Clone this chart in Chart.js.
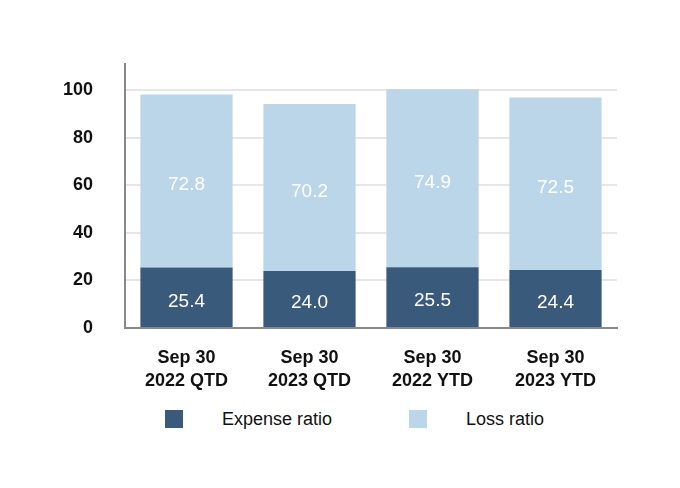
<!DOCTYPE html>
<html>
<head>
<meta charset="utf-8">
<script src="https://cdn.jsdelivr.net/npm/chart.js@4"></script>
<style>
  html, body { margin: 0; padding: 0; background: #fff; }
  #wrap { position: relative; width: 680px; height: 488px; font-family: "Liberation Sans", Arial, sans-serif; }
  #chart-wrap { position: absolute; left: 0; top: 0; width: 680px; height: 395px; }
  .legend-item { position: absolute; top: 410px; height: 18px; font-size: 18px; color: #111; }
  .legend-box { position: absolute; left: 0; top: 0; width: 18px; height: 18px; }
  .legend-text { position: absolute; left: 57px; top: 0; line-height: 18px; white-space: nowrap; }
</style>
</head>
<body>
<div id="wrap">
  <div id="chart-wrap"><canvas id="chart"></canvas></div>
  <div id="legend"></div>
</div>
<script>
(function () {
  'use strict';

  var CATEGORIES = [['Sep 30', '2022 QTD'], ['Sep 30', '2023 QTD'], ['Sep 30', '2022 YTD'], ['Sep 30', '2023 YTD']];
  var EXPENSE_RATIO = [25.4, 24.0, 25.5, 24.4];
  var LOSS_RATIO = [72.8, 70.2, 74.9, 72.5];
  var Y_TICKS = [0, 20, 40, 60, 80, 100];

  var DARK = '#3a5a7b';
  var LIGHT = '#bcd6e9';
  var FONT = '"Liberation Sans", Arial, sans-serif';

  // white value labels centred in each bar segment
  var segmentLabels = {
    id: 'segmentLabels',
    afterDatasetsDraw: function (chart) {
      var ctx = chart.ctx;
      ctx.save();
      ctx.fillStyle = '#ffffff';
      ctx.font = '19px ' + FONT;
      ctx.textAlign = 'center';
      ctx.textBaseline = 'middle';
      chart.data.datasets.forEach(function (ds, i) {
        var meta = chart.getDatasetMeta(i);
        meta.data.forEach(function (bar, j) {
          var mid = (bar.y + bar.base) / 2;
          ctx.fillText(ds.data[j].toFixed(1), bar.x, mid + 4);
        });
      });
      ctx.restore();
    }
  };

  var datasets = [
    { label: 'Expense ratio', data: EXPENSE_RATIO, backgroundColor: DARK },
    { label: 'Loss ratio', data: LOSS_RATIO, backgroundColor: LIGHT }
  ];

  new Chart(document.getElementById('chart'), {
    type: 'bar',
    data: { labels: CATEGORIES, datasets: datasets.map(function (d) {
      return {
        label: d.label, data: d.data, backgroundColor: d.backgroundColor,
        borderWidth: 0, categoryPercentage: 1, barPercentage: 0.75
      };
    }) },
    options: {
      responsive: true,
      maintainAspectRatio: false,
      animation: false,
      layout: { padding: { left: 0, right: 63, top: 64, bottom: 0 } },
      plugins: { legend: { display: false }, tooltip: { enabled: false } },
      scales: {
        x: {
          stacked: true,
          grid: { display: false, drawTicks: false },
          border: { display: true, color: '#888888', width: 2 },
          ticks: { color: '#111', padding: 18, font: { family: FONT, size: 18, weight: 'bold', lineHeight: 1.3 } },
          afterFit: function (s) { s.height = 67; }
        },
        y: {
          stacked: true,
          min: 0,
          max: 111,
          afterBuildTicks: function (s) { s.ticks = Y_TICKS.map(function (v) { return { value: v }; }); },
          grid: { color: '#e6e6e6', lineWidth: 2, drawTicks: false },
          border: { display: true, color: '#888888', width: 2 },
          ticks: { color: '#111', padding: 32, font: { family: FONT, size: 18, weight: 'bold' } },
          afterFit: function (s) { s.width = 125; }
        }
      }
    },
    plugins: [segmentLabels]
  });

  // legend as plain html, spaced like the original
  var LEGEND_X = [165, 409];
  var legend = document.getElementById('legend');
  legend.innerHTML = datasets.map(function (d, i) {
    return '<div class="legend-item" style="left:' + LEGEND_X[i] + 'px">' +
      '<div class="legend-box" style="background:' + d.backgroundColor + '"></div>' +
      '<div class="legend-text">' + d.label + '</div></div>';
  }).join('');
})();
</script>
</body>
</html>
